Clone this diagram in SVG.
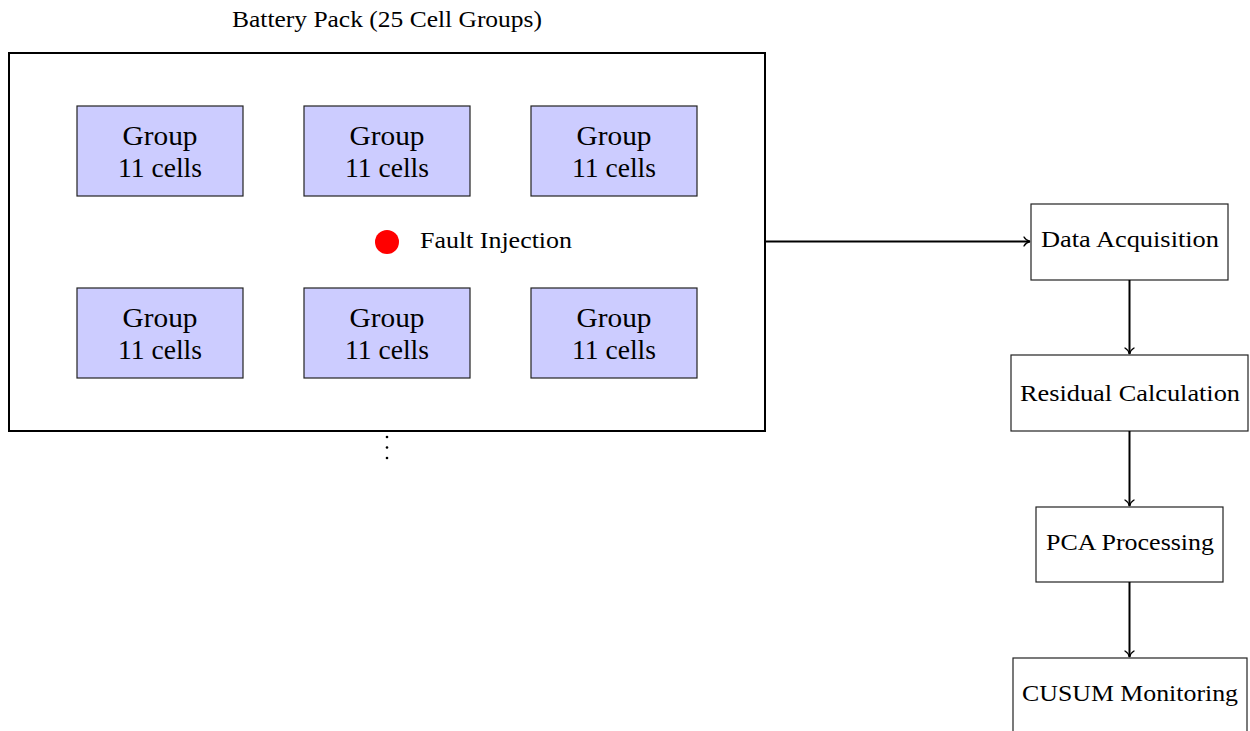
<svg xmlns="http://www.w3.org/2000/svg" width="1250" height="731" viewBox="0 0 1250 731">
<defs>
<marker id="arr" markerWidth="12" markerHeight="12" refX="9" refY="6" orient="auto" markerUnits="userSpaceOnUse">
<path d="M3,1.5 Q5,5 9,6 Q5,7 3,10.5" fill="none" stroke="#000" stroke-width="1.4" stroke-linecap="round"/>
</marker>
</defs>
<style>
text{font-family:"Liberation Serif","DejaVu Serif",serif;fill:#000}
.grp{fill:#ccccff;stroke:#222;stroke-width:1.2}
.big{font-size:27px;text-anchor:middle}
.step{fill:#fff;stroke:#222;stroke-width:1.2}
.lbl{font-size:24px;text-anchor:middle}
.conn{stroke:#000;stroke-width:2;fill:none}
</style>
<rect width="1250" height="731" fill="#fff"/>
<g id="battery-pack">
<text x="387" y="27" class="lbl" textLength="310" lengthAdjust="spacingAndGlyphs">Battery Pack (25 Cell Groups)</text>
<rect x="9" y="53" width="756" height="378" fill="#fff" stroke="#000" stroke-width="2"/>
</g>
<g id="group1"><rect class="grp" x="77" y="106" width="166" height="90"/><text class="big" x="160" y="145" textLength="75" lengthAdjust="spacingAndGlyphs">Group</text><text class="big" x="160" y="177" textLength="84" lengthAdjust="spacingAndGlyphs">11 cells</text></g>
<g id="group2"><rect class="grp" x="304" y="106" width="166" height="90"/><text class="big" x="387" y="145" textLength="75" lengthAdjust="spacingAndGlyphs">Group</text><text class="big" x="387" y="177" textLength="84" lengthAdjust="spacingAndGlyphs">11 cells</text></g>
<g id="group3"><rect class="grp" x="531" y="106" width="166" height="90"/><text class="big" x="614" y="145" textLength="75" lengthAdjust="spacingAndGlyphs">Group</text><text class="big" x="614" y="177" textLength="84" lengthAdjust="spacingAndGlyphs">11 cells</text></g>
<g id="group4"><rect class="grp" x="77" y="288" width="166" height="90"/><text class="big" x="160" y="327" textLength="75" lengthAdjust="spacingAndGlyphs">Group</text><text class="big" x="160" y="359" textLength="84" lengthAdjust="spacingAndGlyphs">11 cells</text></g>
<g id="group5"><rect class="grp" x="304" y="288" width="166" height="90"/><text class="big" x="387" y="327" textLength="75" lengthAdjust="spacingAndGlyphs">Group</text><text class="big" x="387" y="359" textLength="84" lengthAdjust="spacingAndGlyphs">11 cells</text></g>
<g id="group6"><rect class="grp" x="531" y="288" width="166" height="90"/><text class="big" x="614" y="327" textLength="75" lengthAdjust="spacingAndGlyphs">Group</text><text class="big" x="614" y="359" textLength="84" lengthAdjust="spacingAndGlyphs">11 cells</text></g>
<g id="fault-injection">
<circle cx="387" cy="242" r="12" fill="#ff0000"/>
<text x="420" y="248" font-size="24" textLength="152" lengthAdjust="spacingAndGlyphs">Fault Injection</text>
</g>
<g id="ellipsis">
<circle cx="387" cy="437" r="1.3" fill="#000"/>
<circle cx="387" cy="447.5" r="1.3" fill="#000"/>
<circle cx="387" cy="458" r="1.3" fill="#000"/>
</g>
<g id="data-acquisition"><rect class="step" x="1031" y="204" width="197" height="76"/><text class="lbl" x="1130" y="247" textLength="178" lengthAdjust="spacingAndGlyphs">Data Acquisition</text></g>
<g id="residual-calculation"><rect class="step" x="1011" y="355" width="237" height="76"/><text class="lbl" x="1130" y="401" textLength="220" lengthAdjust="spacingAndGlyphs">Residual Calculation</text></g>
<g id="pca-processing"><rect class="step" x="1036" y="507" width="187" height="75"/><text class="lbl" x="1130" y="550" textLength="168" lengthAdjust="spacingAndGlyphs">PCA Processing</text></g>
<g id="cusum-monitoring"><rect class="step" x="1013" y="658" width="234" height="76"/><text class="lbl" x="1130" y="701" textLength="216" lengthAdjust="spacingAndGlyphs">CUSUM Monitoring</text></g>
<g id="connectors">
<line class="conn" x1="765" y1="241.5" x2="1030" y2="241.5" marker-end="url(#arr)"/>
<line class="conn" x1="1129.5" y1="280" x2="1129.5" y2="354" marker-end="url(#arr)"/>
<line class="conn" x1="1129.5" y1="431" x2="1129.5" y2="506" marker-end="url(#arr)"/>
<line class="conn" x1="1129.5" y1="582" x2="1129.5" y2="657" marker-end="url(#arr)"/>
</g>
</svg>
